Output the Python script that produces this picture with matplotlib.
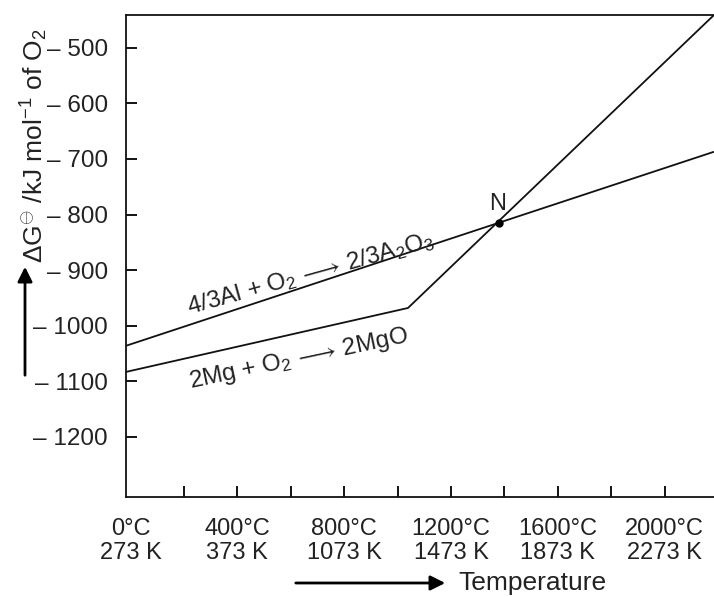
import matplotlib.pyplot as plt
from matplotlib.patches import FancyArrowPatch
from matplotlib.ticker import FixedLocator

plt.rcParams['font.family'] = ['Liberation Sans', 'DejaVu Sans']
plt.rcParams['mathtext.fontset'] = 'custom'
plt.rcParams['mathtext.rm'] = 'Liberation Sans'
plt.rcParams['mathtext.it'] = 'Liberation Sans:italic'

# ---------------- data ----------------
al_T = [-17, 2185]            # °C
al_G = [-1036, -687]          # kJ/mol O2
mg_T = [-17, 1039, 2185]
mg_G = [-1083, -968, -441]
n_T, n_G = 1380, -816         # crossing point N

x_label_pos = [0, 400, 800, 1200, 1600, 2000]
x_labels = ["0°C\n273 K", "400°C\n373 K", "800°C\n1073 K",
            "1200°C\n1473 K", "1600°C\n1873 K", "2000°C\n2273 K"]
x_minor = list(range(200, 2001, 200))
y_ticks = [-1200, -1100, -1000, -900, -800, -700, -600, -500]

txt = '#222222'
W, H = 714, 597
fig = plt.figure(figsize=(W / 100, H / 100), dpi=100)
ax = fig.add_axes([126 / W, 1 - 497 / H, 1 - 126 / W, (497 - 15) / H])

ax.plot(al_T, al_G, color='#111111', lw=1.3, solid_capstyle='butt')
ax.plot(mg_T, mg_G, color='#111111', lw=1.3, solid_joinstyle='miter')
ax.plot([n_T], [n_G], 'o', color='black', ms=5)
ax.text(n_T - 4, n_G + 16, "N", fontsize=17, color=txt, ha='center', va='bottom')

ax.set_xlim(-17, 2185)
ax.set_ylim(-1308, -441)

ax.spines['right'].set_visible(False)
for s in ['left', 'bottom', 'top']:
    ax.spines[s].set_linewidth(1.3)
    ax.spines[s].set_color('#111111')

ax.xaxis.remove_overlapping_locs = False
ax.xaxis.set_major_locator(FixedLocator(x_label_pos))
ax.set_xticklabels(x_labels, fontsize=17, color=txt, linespacing=1.1)
ax.xaxis.set_minor_locator(FixedLocator(x_minor))
ax.tick_params(axis='x', which='major', length=0, pad=15)
ax.tick_params(axis='x', which='minor', direction='in', length=8, width=1.3)

ax.set_yticks(y_ticks)
ax.set_yticklabels([f"– {-v}" for v in y_ticks], fontsize=17.5, color=txt)
ax.tick_params(axis='y', direction='in', length=8, width=1.3, pad=13)

# reaction labels along the lines
ax.text(311 / W, 1 - 274 / H, r"4/3Al + O$_2$$\,\longrightarrow\,$2/3A$_2$O$_3$",
        transform=fig.transFigure, fontsize=17.5, color=txt,
        rotation=15.5, ha='center', va='center', rotation_mode='anchor')
ax.text(299 / W, 1 - 359 / H, r"2Mg + O$_2$$\,\longrightarrow\,$2MgO",
        transform=fig.transFigure, fontsize=17.5, color=txt,
        rotation=12, ha='center', va='center', rotation_mode='anchor')

# axis titles with arrows
fig.text(34 / W, 1 - 146 / H, r"$\Delta$G$^{\ominus}$ /kJ mol$^{-1}$ of O$_2$",
         fontsize=19, color=txt, rotation=90, ha='center', va='center')
fig.add_artist(FancyArrowPatch(
    (25 / W, 1 - 378 / H), (25 / W, 1 - 264 / H), transform=fig.transFigure,
    arrowstyle='-|>', mutation_scale=22, lw=2, color='black'))

fig.add_artist(FancyArrowPatch(
    (293 / W, 1 - 583 / H), (448 / W, 1 - 583 / H), transform=fig.transFigure,
    arrowstyle='-|>', mutation_scale=22, lw=2, color='black'))
fig.text(458 / W, 1 - 583 / H, "Temperature", fontsize=19, color=txt,
         ha='left', va='center')

fig.savefig("out.png", dpi=100)
